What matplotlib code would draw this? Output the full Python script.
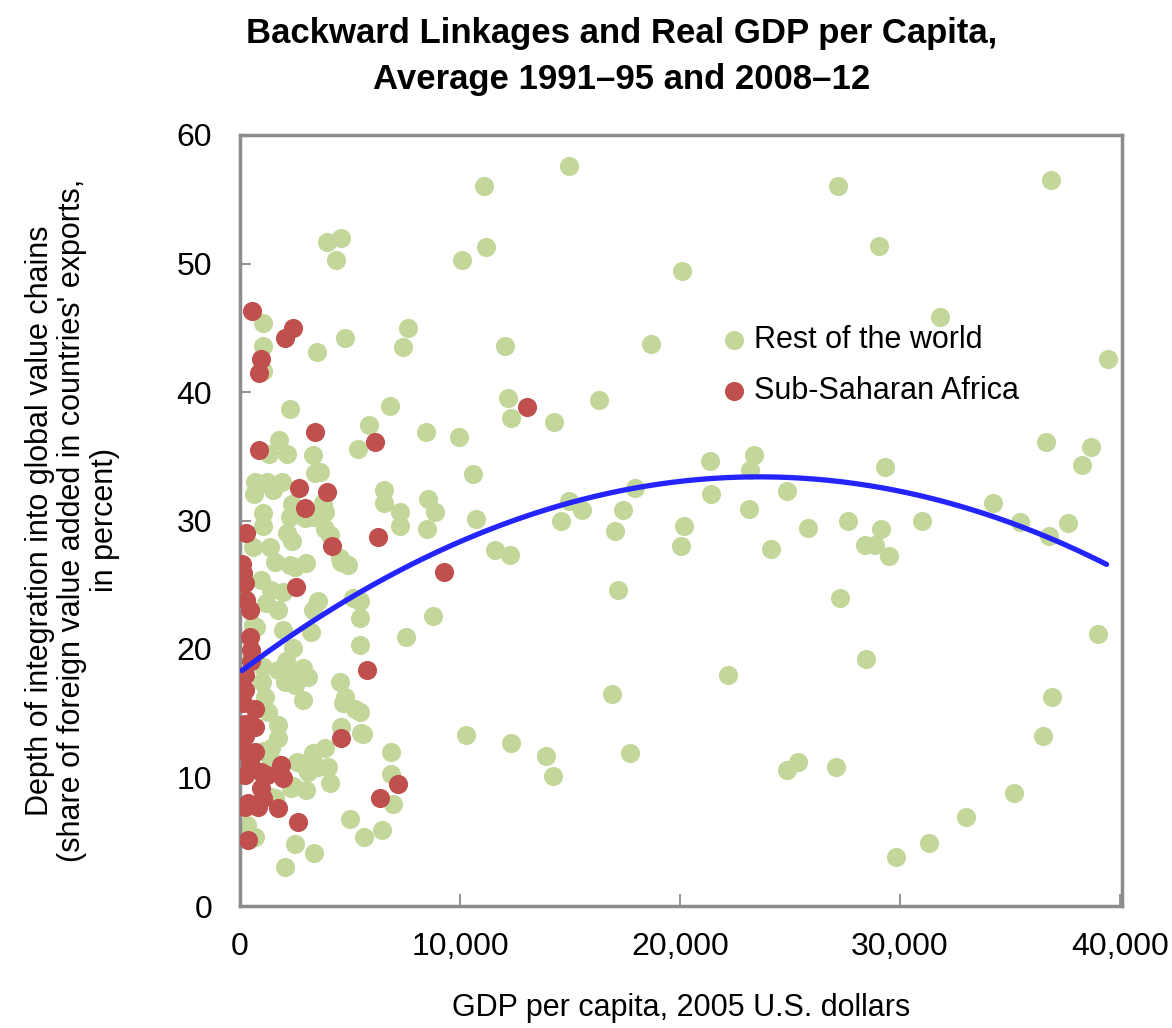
import numpy as np
import matplotlib
matplotlib.use("Agg")
from matplotlib import pyplot as plt

# GDP per capita (2005 US$) and backward linkage share (%) -- rest of the world
row_gdp = [14950, 11090, 11180, 10090, 20090, 7640, 7410, 12050, 18680, 12180,
           12320, 14270, 16320, 8450, 9950, 10590, 21360, 23360, 23180, 8540,
           8860, 7270, 10730, 14950, 17950, 21410, 24860, 23130, 17410, 15540,
           14590, 7270, 8500, 17040, 20180, 20040, 24130, 11590, 12270, 8770,
           7540, 17180, 22180, 16910, 10270, 12320, 13910, 14230, 17730, 24860,
           25360,
           27180, 36860, 29040, 31820, 39450, 36630, 38680, 38270, 29320, 25820,
           27640, 29130, 28410, 28860, 29500, 31000, 34220, 35450, 36770, 37630,
           27270, 39000, 28450, 36910, 36500, 35180, 33000, 31320, 29820, 27090,
           6820, 5860, 5360, 6540, 6540, 5450, 5450, 5450, 5450, 5590,
           6860, 6860, 6950, 6450, 5640,
           3950, 4590, 4360, 1050, 1050, 1050, 3500, 4770, 2270, 1770,
           1320, 2140, 3320, 3410, 3640, 680, 1230, 1910, 640, 1500,
           2360, 3770, 3860, 2270, 2950, 3320, 1050, 1050, 2140, 2360,
           3860, 4090, 590, 1360, 4550, 1590, 3000, 4590, 4910, 2270,
           2500, 950, 1410, 1950, 1180, 1730, 3550, 3320, 5140, 1950,
           3230, 730, 2410, 2090, 2410, 2860, 3090, 1730, 2050, 2500,
           1050, 4550, 4770, 5230, 2860, 1140, 1270,
           1730, 1730, 1410, 1050, 1410, 4680, 4590, 5500, 2730, 3320,
           3860, 4000, 3090, 4090, 2320, 3000, 1410, 270, 680, 2500,
           3360, 2050, 5000, 320, 2590, 3550, 2410, 1590, 1000, 590]
row_gvc = [57.6, 56.0, 51.3, 50.3, 49.4, 45.0, 43.5, 43.6, 43.7, 39.5,
           38.0, 37.7, 39.4, 36.9, 36.5, 33.6, 34.6, 35.1, 33.9, 31.7,
           30.7, 30.7, 30.1, 31.5, 32.5, 32.1, 32.3, 30.9, 30.8, 30.8,
           30.0, 29.6, 29.3, 29.2, 29.6, 28.0, 27.8, 27.7, 27.3, 22.6,
           20.9, 24.6, 18.0, 16.5, 13.3, 12.7, 11.7, 10.1, 11.9, 10.6,
           11.2,
           56.0, 56.5, 51.4, 45.8, 42.6, 36.1, 35.7, 34.3, 34.2, 29.4,
           30.0, 29.3, 28.1, 28.1, 27.2, 30.0, 31.4, 29.9, 28.8, 29.8,
           24.0, 21.2, 19.2, 16.3, 13.2, 8.8, 6.9, 4.9, 3.8, 10.8,
           38.9, 37.4, 35.6, 32.4, 31.4, 23.7, 22.4, 20.3, 15.1, 13.4,
           12.0, 10.3, 7.9, 5.9, 5.4,
           51.7, 52.0, 50.3, 45.4, 43.6, 41.6, 43.1, 44.2, 38.7, 36.3,
           35.2, 35.2, 35.1, 33.7, 33.8, 33.0, 33.0, 33.0, 32.1, 32.4,
           31.3, 31.4, 30.7, 30.3, 30.2, 30.3, 30.6, 29.6, 29.0, 28.4,
           29.3, 28.9, 27.9, 27.9, 27.1, 26.8, 26.7, 26.8, 26.5, 26.5,
           26.4, 25.4, 24.6, 24.4, 23.6, 23.0, 23.7, 23.0, 24.0, 21.5,
           21.3, 21.7, 20.1, 19.1, 18.4, 18.5, 17.8, 18.4, 17.4, 17.2,
           18.6, 17.4, 16.3, 15.3, 16.0, 16.3, 15.1,
           14.1, 13.1, 12.3, 12.1, 11.4, 15.8, 13.9, 13.5, 11.1, 11.9,
           12.3, 10.8, 10.4, 9.6, 9.2, 9.0, 8.5, 6.1, 5.4, 4.8,
           4.1, 3.0, 6.8, 6.3, 11.2, 10.8, 9.3, 8.4, 17.4, 21.9]

# sub-Saharan Africa
ssa_gdp = [550, 2410, 2050, 950, 860, 860, 3410, 6140, 13040, 2680,
           3950, 2950, 270, 6270, 4180, 90, 230, 270, 450, 2550,
           9270, 450, 500, 500, 230, 5770, 230, 140, 680, 230,
           680, 230, 4590, 230, 680, 450, 1860, 230, 950, 1950,
           950, 7180, 6360, 360, 820, 1050, 1730, 2640, 360, 140,
           1230, 230]
ssa_gvc = [46.3, 45.0, 44.2, 42.6, 41.5, 35.5, 36.9, 36.1, 38.8, 32.5,
           32.2, 31.0, 29.0, 28.7, 28.0, 26.6, 25.1, 23.8, 23.0, 24.8,
           26.0, 20.9, 19.9, 19.1, 18.0, 18.4, 16.8, 15.8, 15.3, 14.2,
           13.9, 13.2, 13.1, 12.1, 12.0, 11.2, 11.0, 10.2, 10.4, 10.0,
           9.2, 9.5, 8.4, 8.0, 7.7, 8.4, 7.6, 6.5, 5.1, 25.9,
           10.2, 7.7]

# quadratic trend: y = c0 + c1*x + c2*x^2
trend_coef = [18.2, 1.288e-3, -2.729e-8]
trend_range = [100, 39400]

plt.rcParams['font.family'] = ['Liberation Sans', 'DejaVu Sans']

fig = plt.figure(figsize=(11.72, 10.28), dpi=100)
ax = fig.add_axes([240/1172, 122/1028, 882/1172, 771/1028])

ax.scatter(row_gdp, row_gvc, s=190, color='#C4D79B', linewidths=0, label='Rest of the world', zorder=2)
ax.scatter(ssa_gdp, ssa_gvc, s=190, color='#C0504D', linewidths=0, label='Sub-Saharan Africa', zorder=3)

tx = np.linspace(trend_range[0], trend_range[1], 200)
ty = trend_coef[0] + trend_coef[1]*tx + trend_coef[2]*tx**2
ax.plot(tx, ty, color='#2424FF', lw=3.8, zorder=4, solid_capstyle='round')

ax.set_xlim(0, 40100)
ax.set_ylim(0, 60)
ax.set_xticks([0, 10000, 20000, 30000, 40000])
ax.set_xticklabels(['0', '10,000', '20,000', '30,000', '40,000'])
ax.set_yticks(range(0, 61, 10))
ax.tick_params(axis='both', direction='in', colors='#808080', labelcolor='black', labelsize=23, width=1.2)
ax.tick_params(axis='x', length=9, pad=19)
ax.tick_params(axis='y', length=8, pad=20)
for sp in ax.spines.values():
    sp.set_color('#8c8c8c')
    sp.set_linewidth(2.5)

ax.set_xlabel('GDP per capita, 2005 U.S. dollars', fontsize=22, labelpad=22)
ax.set_ylabel("Depth of integration into global value chains\n(share of foreign value added in countries' exports,\nin percent)",
              fontsize=22, labelpad=41, linespacing=1.1)
fig.suptitle('Backward Linkages and Real GDP per Capita,\nAverage 1991–95 and 2008–12',
             x=622/1172, y=0.983, fontsize=25, fontweight='bold', linespacing=1.5)

ax.legend(loc='upper left', bbox_to_anchor=(0.532, 0.770), frameon=False, fontsize=22,
          handlelength=0.8, handletextpad=0.25, labelspacing=0.71, borderaxespad=0)

fig.savefig('out.png', dpi=100)
